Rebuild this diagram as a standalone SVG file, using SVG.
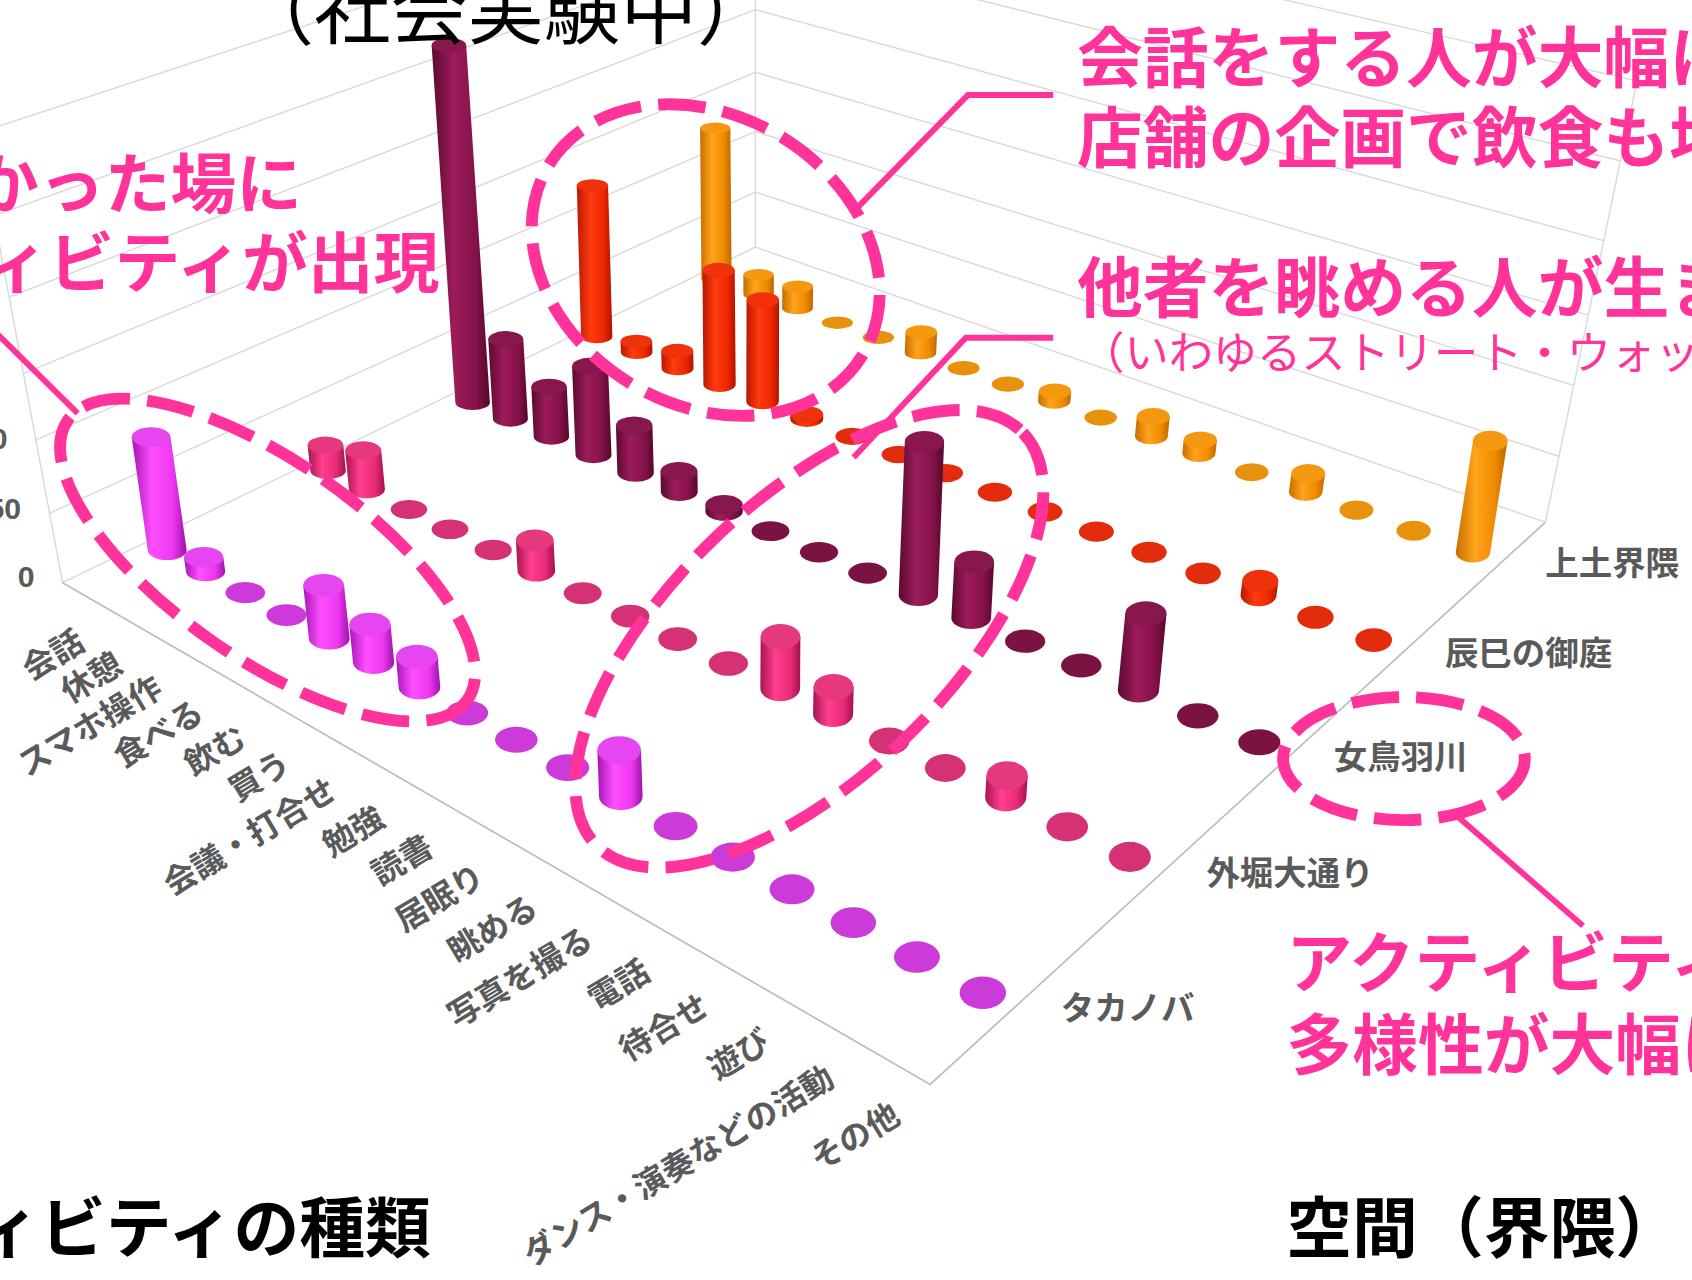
<svg xmlns="http://www.w3.org/2000/svg" width="1692" height="1280" viewBox="0 0 1692 1280">
<defs>
<linearGradient id="gO" x1="0" y1="0" x2="1" y2="0"><stop offset="0" stop-color="#c86e00"/><stop offset=".38" stop-color="#ffa41c"/><stop offset=".75" stop-color="#ef8b00"/><stop offset="1" stop-color="#bf6600"/></linearGradient>
<linearGradient id="gR" x1="0" y1="0" x2="1" y2="0"><stop offset="0" stop-color="#b81800"/><stop offset=".38" stop-color="#ff3b10"/><stop offset=".75" stop-color="#ee2700"/><stop offset="1" stop-color="#b01400"/></linearGradient>
<linearGradient id="gM" x1="0" y1="0" x2="1" y2="0"><stop offset="0" stop-color="#5a0a30"/><stop offset=".38" stop-color="#9c1c5a"/><stop offset=".75" stop-color="#85124a"/><stop offset="1" stop-color="#55082b"/></linearGradient>
<linearGradient id="gP" x1="0" y1="0" x2="1" y2="0"><stop offset="0" stop-color="#a8154f"/><stop offset=".38" stop-color="#ff3f90"/><stop offset=".75" stop-color="#e82a76"/><stop offset="1" stop-color="#a0124c"/></linearGradient>
<linearGradient id="gF" x1="0" y1="0" x2="1" y2="0"><stop offset="0" stop-color="#a516b5"/><stop offset=".38" stop-color="#ff4fff"/><stop offset=".75" stop-color="#ec37f0"/><stop offset="1" stop-color="#9e12ac"/></linearGradient>
<style>
.gl{fill:none;stroke:#d9d9d9;stroke-width:1.3}
.ed{fill:none;stroke:#bdbdbd;stroke-width:1.6}
.o{fill:url(#gO)} .ot{fill:#f3980f} .of{fill:#e8910c}
.r{fill:url(#gR)} .rt{fill:#f0320c} .rf{fill:#e22c0c}
.m{fill:url(#gM)} .mt{fill:#87174c} .mf{fill:#7a1242}
.p{fill:url(#gP)} .pt{fill:#e6387d} .pf{fill:#d43274}
.f{fill:url(#gF)} .ft{fill:#e646ef} .ff{fill:#cc3ad9}
.jp{font-family:"Noto Sans","Noto Sans CJK JP",sans-serif}
.cat{font-size:30px;font-weight:700;fill:#5a5a5a}
.ser{font-size:31px;font-weight:700;fill:#5a5a5a}
.num{font-family:"Liberation Sans",sans-serif;font-size:28px;font-weight:700;fill:#5a5a5a}
.call{font-size:61px;font-weight:700;fill:#ff3399}
.sub{font-size:41px;font-weight:400;fill:#ff3399}
.blk{font-size:61px;font-weight:700;fill:#000}
.ttl{font-size:71px;font-weight:400;fill:#000}
.dash{fill:none;stroke:#ff3399;stroke-width:11;stroke-dasharray:44 16}
.ld{fill:none;stroke:#ff3399;stroke-width:5.5}
</style>
</defs>
<rect width="1692" height="1280" fill="#fff"/>
<g transform="scale(1.0791)">
<g id="walls">
<path class="gl" d="M45 476L700 178M32 408L700 122M22 346L700 67M9 275L700 9M-6 200L700 -52M-20 123L700 -113"/>
<path class="gl" d="M700 178L1445 423M700 122L1458 357M700 67L1472 292M700 9L1486 223M700 -52L1501 149M700 -113L1517 75"/>
<path class="gl" d="M700 229L700 -120M58 540L-20 123M1432 484L1517 75"/>
<path class="gl" d="M58 540L700 229L1432 484"/>
<path class="ed" d="M58 540L862 1005L1432 484"/>
</g>
<g id="row-uetsuchi">
<path class="o" d="M650 258.6A14 5 0 0 0 678 258.6L676.8 118.6L648.8 118.6Z"/><ellipse class="ot" cx="662.8" cy="118.6" rx="14" ry="5"/>
<path class="o" d="M688.9 272.6A14.1 5.3 0 0 0 717.1 272.6L717.1 254.6L688.9 254.6Z"/><ellipse class="ot" cx="703" cy="254.6" rx="14.1" ry="5.3"/>
<path class="o" d="M724.75 285.6A14.25 5.6 0 0 0 753.25 285.6L753.45 265.6L724.95 265.6Z"/><ellipse class="ot" cx="739.2" cy="265.6" rx="14.25" ry="5.6"/>
<ellipse class="of" cx="776" cy="299" rx="14.4" ry="5.8"/>
<ellipse class="of" cx="814" cy="312.7" rx="14.5" ry="6.1"/>
<path class="o" d="M838.4 326.8A14.6 6.4 0 0 0 867.6 326.8L868.4 307.8L839.2 307.8Z"/><ellipse class="ot" cx="853.8" cy="307.8" rx="14.6" ry="6.4"/>
<ellipse class="of" cx="893" cy="341.2" rx="14.75" ry="6.7"/>
<ellipse class="of" cx="934" cy="356" rx="14.9" ry="7"/>
<path class="o" d="M962 371.6A15 7.25 0 0 0 992 371.6L992.6 362.6L962.6 362.6Z"/><ellipse class="ot" cx="977.6" cy="362.6" rx="15" ry="7.25"/>
<ellipse class="of" cx="1020" cy="387" rx="15.1" ry="7.5"/>
<path class="o" d="M1051.75 404A15.25 7.8 0 0 0 1082.25 404L1083.95 386L1053.45 386Z"/><ellipse class="ot" cx="1068.7" cy="386" rx="15.25" ry="7.8"/>
<path class="o" d="M1095.6 420A15.4 8.1 0 0 0 1126.4 420L1127.7 408L1096.9 408Z"/><ellipse class="ot" cx="1112.3" cy="408" rx="15.4" ry="8.1"/>
<ellipse class="of" cx="1160" cy="437.6" rx="15.5" ry="8.4"/>
<path class="o" d="M1194.4 455.7A15.6 8.6 0 0 0 1225.6 455.7L1227.9 438.7L1196.7 438.7Z"/><ellipse class="ot" cx="1212.3" cy="438.7" rx="15.6" ry="8.6"/>
<ellipse class="of" cx="1257" cy="472.7" rx="15.75" ry="8.9"/>
<ellipse class="of" cx="1310" cy="491.8" rx="15.9" ry="9.2"/>
<path class="o" d="M1349 511.7A16 9.5 0 0 0 1381 511.7L1397 408.7L1365 408.7Z"/><ellipse class="ot" cx="1381" cy="408.7" rx="16" ry="9.5"/>
</g>
<g id="row-tatsumi">
<path class="r" d="M538.5 312A14.5 6 0 0 0 567.5 312L563.5 172L534.5 172Z"/><ellipse class="rt" cx="549" cy="172" rx="14.5" ry="6"/>
<path class="r" d="M575.35 326.4A14.65 6.3 0 0 0 604.65 326.4L604.35 316.4L575.05 316.4Z"/><ellipse class="rt" cx="589.7" cy="316.4" rx="14.65" ry="6.3"/>
<path class="r" d="M613.1 341.2A14.8 6.6 0 0 0 642.7 341.2L642.4 325.2L612.8 325.2Z"/><ellipse class="rt" cx="627.6" cy="325.2" rx="14.8" ry="6.6"/>
<path class="r" d="M651.85 356.4A14.95 6.9 0 0 0 681.75 356.4L680.85 250.4L650.95 250.4Z"/><ellipse class="rt" cx="665.9" cy="250.4" rx="14.95" ry="6.9"/>
<path class="r" d="M691.6 372A15.1 7.25 0 0 0 721.8 372L722 278L691.8 278Z"/><ellipse class="rt" cx="706.9" cy="278" rx="15.1" ry="7.25"/>
<path class="r" d="M732.3 388A15.3 7.6 0 0 0 762.9 388L762.9 384L732.3 384Z"/><ellipse class="rt" cx="747.6" cy="384" rx="15.3" ry="7.6"/>
<ellipse class="rf" cx="789.6" cy="404.4" rx="15.4" ry="7.9"/>
<ellipse class="rf" cx="832.6" cy="421.2" rx="15.6" ry="8.2"/>
<ellipse class="rf" cx="876.7" cy="438.4" rx="15.75" ry="8.5"/>
<ellipse class="rf" cx="922" cy="456.1" rx="15.9" ry="8.8"/>
<ellipse class="rf" cx="968.4" cy="474.2" rx="16.06" ry="9.1"/>
<ellipse class="rf" cx="1016" cy="492.7" rx="16.2" ry="9.4"/>
<ellipse class="rf" cx="1064.8" cy="511.8" rx="16.4" ry="9.75"/>
<ellipse class="rf" cx="1114.9" cy="531.3" rx="16.5" ry="10.1"/>
<path class="r" d="M1149.6 551.4A16.7 10.4 0 0 0 1183 551.4L1184.6 538.4L1151.2 538.4Z"/><ellipse class="rt" cx="1167.9" cy="538.4" rx="16.7" ry="10.4"/>
<ellipse class="rf" cx="1219" cy="572" rx="16.84" ry="10.7"/>
<ellipse class="rf" cx="1273" cy="593.1" rx="17" ry="11"/>
</g>
<g id="row-metoba">
<path class="m" d="M422 373A16 7 0 0 0 454 373L432 42L400 42Z"/><ellipse class="mt" cx="416" cy="42" rx="16" ry="7"/>
<path class="m" d="M456.8 388.1A16.2 7.3 0 0 0 489.2 388.1L484.9 314.1L452.5 314.1Z"/><ellipse class="mt" cx="468.7" cy="314.1" rx="16.2" ry="7.3"/>
<path class="m" d="M494.6 404.5A16.4 7.6 0 0 0 527.4 404.5L525.2 358.5L492.4 358.5Z"/><ellipse class="mt" cx="508.8" cy="358.5" rx="16.4" ry="7.6"/>
<path class="m" d="M533.35 421.4A16.65 7.9 0 0 0 566.65 421.4L563.45 339.4L530.15 339.4Z"/><ellipse class="mt" cx="546.8" cy="339.4" rx="16.65" ry="7.9"/>
<path class="m" d="M572.1 438.2A16.9 8.25 0 0 0 605.9 438.2L604.6 394.2L570.8 394.2Z"/><ellipse class="mt" cx="587.7" cy="394.2" rx="16.9" ry="8.25"/>
<path class="m" d="M612.4 455.7A17.1 8.6 0 0 0 646.6 455.7L646.3 436.7L612.1 436.7Z"/><ellipse class="mt" cx="629.2" cy="436.7" rx="17.1" ry="8.6"/>
<path class="m" d="M653.7 473.7A17.3 8.9 0 0 0 688.3 473.7L688.3 467.7L653.7 467.7Z"/><ellipse class="mt" cx="671" cy="467.7" rx="17.3" ry="8.9"/>
<ellipse class="mf" cx="714" cy="492.2" rx="17.5" ry="9.2"/>
<ellipse class="mf" cx="759" cy="511.7" rx="17.75" ry="9.5"/>
<ellipse class="mf" cx="804" cy="531.1" rx="18" ry="9.8"/>
<path class="m" d="M832.8 551.4A18.2 10.1 0 0 0 869.2 551.4L874.9 409.4L838.5 409.4Z"/><ellipse class="mt" cx="856.7" cy="409.4" rx="18.2" ry="10.1"/>
<path class="m" d="M881.6 572.6A18.4 10.4 0 0 0 918.4 572.6L921.2 520.6L884.4 520.6Z"/><ellipse class="mt" cx="902.8" cy="520.6" rx="18.4" ry="10.4"/>
<ellipse class="mf" cx="950" cy="594.2" rx="18.6" ry="10.75"/>
<ellipse class="mf" cx="1002" cy="616.7" rx="18.8" ry="11.1"/>
<path class="m" d="M1035.9 639.6A19.1 11.4 0 0 0 1074.1 639.6L1081 568.6L1042.8 568.6Z"/><ellipse class="mt" cx="1061.9" cy="568.6" rx="19.1" ry="11.4"/>
<ellipse class="mf" cx="1110" cy="663.3" rx="19.3" ry="11.7"/>
<ellipse class="mf" cx="1167" cy="687.9" rx="19.5" ry="12"/>
</g>
<g id="row-sotobori">
<path class="p" d="M287.5 436A16.5 8 0 0 0 320.5 436L318.1 412.5L285.1 412.5Z"/><ellipse class="pt" cx="301.6" cy="412.5" rx="16.5" ry="8"/>
<path class="p" d="M323.3 453.4A16.7 8.4 0 0 0 356.7 453.4L353.3 417.4L319.9 417.4Z"/><ellipse class="pt" cx="336.6" cy="417.4" rx="16.7" ry="8.4"/>
<ellipse class="pf" cx="379" cy="472.2" rx="16.9" ry="8.75"/>
<ellipse class="pf" cx="417" cy="490.5" rx="17.06" ry="9.1"/>
<ellipse class="pf" cx="457" cy="509.7" rx="17.25" ry="9.5"/>
<path class="p" d="M479.6 529A17.4 9.9 0 0 0 514.4 529L512.9 500.5L478.1 500.5Z"/><ellipse class="pt" cx="495.5" cy="500.5" rx="17.4" ry="9.9"/>
<ellipse class="pf" cx="540" cy="549.8" rx="17.6" ry="10.25"/>
<ellipse class="pf" cx="584" cy="571" rx="17.8" ry="10.6"/>
<ellipse class="pf" cx="628" cy="592.2" rx="18" ry="11"/>
<ellipse class="pf" cx="675" cy="614.8" rx="18.2" ry="11.4"/>
<path class="p" d="M704.6 638A18.4 11.75 0 0 0 741.4 638L741.7 590L704.9 590Z"/><ellipse class="pt" cx="723.3" cy="590" rx="18.4" ry="11.75"/>
<path class="p" d="M753.44 661.6A18.56 12.1 0 0 0 790.56 661.6L791.06 636.6L753.94 636.6Z"/><ellipse class="pt" cx="772.5" cy="636.6" rx="18.56" ry="12.1"/>
<ellipse class="pf" cx="824" cy="686.6" rx="18.75" ry="12.5"/>
<ellipse class="pf" cx="876" cy="711.7" rx="18.9" ry="12.9"/>
<path class="p" d="M912.9 738.7A19.1 13.25 0 0 0 951.1 738.7L952.4 718.7L914.2 718.7Z"/><ellipse class="pt" cx="933.3" cy="718.7" rx="19.1" ry="13.25"/>
<ellipse class="pf" cx="989" cy="766.2" rx="19.3" ry="13.6"/>
<ellipse class="pf" cx="1047" cy="794.1" rx="19.5" ry="14"/>
</g>
<g id="row-takanoba">
<path class="f" d="M137 510A18 9 0 0 0 173 510L158 405L122 405Z"/><ellipse class="ft" cx="140" cy="405" rx="18" ry="9"/>
<path class="f" d="M172.3 529.3A18.2 9.4 0 0 0 208.7 529.3L206.9 516.3L170.5 516.3Z"/><ellipse class="ft" cx="188.7" cy="516.3" rx="18.2" ry="9.4"/>
<ellipse class="ff" cx="227.3" cy="549.2" rx="18.4" ry="9.75"/>
<ellipse class="ff" cx="265.5" cy="570" rx="18.65" ry="10.1"/>
<path class="f" d="M286.2 591.4A18.9 10.5 0 0 0 324 591.4L318.8 542.4L281 542.4Z"/><ellipse class="ft" cx="299.9" cy="542.4" rx="18.9" ry="10.5"/>
<path class="f" d="M327.1 613.7A19.1 10.9 0 0 0 365.3 613.7L361.9 578.7L323.7 578.7Z"/><ellipse class="ft" cx="342.8" cy="578.7" rx="19.1" ry="10.9"/>
<path class="f" d="M369.4 636.8A19.3 11.25 0 0 0 408 636.8L405.6 608.8L367 608.8Z"/><ellipse class="ft" cx="386.3" cy="608.8" rx="19.3" ry="11.25"/>
<ellipse class="ff" cx="432.9" cy="660.7" rx="19.5" ry="11.6"/>
<ellipse class="ff" cx="478.5" cy="685.5" rx="19.75" ry="12"/>
<ellipse class="ff" cx="526" cy="711.3" rx="20" ry="12.4"/>
<path class="f" d="M555.1 738A20.2 12.75 0 0 0 595.5 738L594 695L553.6 695Z"/><ellipse class="ft" cx="573.8" cy="695" rx="20.2" ry="12.75"/>
<ellipse class="ff" cx="626.1" cy="765.6" rx="20.4" ry="13.1"/>
<ellipse class="ff" cx="679" cy="794.3" rx="20.6" ry="13.5"/>
<ellipse class="ff" cx="734" cy="824.1" rx="20.8" ry="13.9"/>
<ellipse class="ff" cx="790.8" cy="854.9" rx="21.1" ry="14.25"/>
<ellipse class="ff" cx="849.7" cy="886.9" rx="21.3" ry="14.6"/>
<ellipse class="ff" cx="910.8" cy="920" rx="21.5" ry="15"/>
</g>
<g id="value-axis" class="num" text-anchor="end">
<text x="7" y="416">100</text>
<text x="19.5" y="481">50</text>
<text x="32" y="544">0</text>
</g>
<g id="category-axis" class="jp cat" text-anchor="end">
<text transform="translate(80.4 600.6) rotate(-31)">会話</text>
<text transform="translate(115.9 621.7) rotate(-31)">休憩</text>
<text transform="translate(152.7 643.4) rotate(-31)">スマホ操作</text>
<text transform="translate(190.9 666) rotate(-31)">食べる</text>
<text transform="translate(230.5 689.2) rotate(-31)">飲む</text>
<text transform="translate(271.6 713.3) rotate(-31)">買う</text>
<text transform="translate(314.1 738.2) rotate(-31)">会議・打合せ</text>
<text transform="translate(358.3 763.9) rotate(-31)">勉強</text>
<text transform="translate(403.9 790.5) rotate(-31)">読書</text>
<text transform="translate(451.4 818.1) rotate(-31)">居眠り</text>
<text transform="translate(500.7 846.6) rotate(-31)">眺める</text>
<text transform="translate(551.5 876) rotate(-31)">写真を撮る</text>
<text transform="translate(604.4 906.5) rotate(-31)">電話</text>
<text transform="translate(659.4 938.1) rotate(-31)">待合せ</text>
<text transform="translate(716.2 970.7) rotate(-31)">遊び</text>
<text transform="translate(775.1 1004.5) rotate(-31)">ダンス・演奏などの活動</text>
<text transform="translate(836.2 1039.4) rotate(-31)">その他</text>
</g>
<g id="series-axis" class="jp ser">
<text x="1432" y="533">上土界隈</text>
<text x="1339" y="616">辰巳の御庭</text>
<text x="1236" y="713">女鳥羽川</text>
<text x="1118" y="820">外堀大通り</text>
<text x="983" y="945">タカノバ</text>
</g>
<g id="title" class="jp ttl"><text x="220" y="35">（社会実験中）</text></g>
<g id="connectors">
<ellipse class="dash" cx="654" cy="241" rx="170" ry="134" transform="rotate(31 654 241)"/>
<ellipse class="dash" cx="248" cy="519" rx="226" ry="91" transform="rotate(35 248 519)"/>
<ellipse class="dash" cx="750" cy="592" rx="275" ry="128" transform="rotate(-44 750 592)"/>
<ellipse class="dash" cx="1301" cy="703" rx="112" ry="57"/>
<polyline class="ld" points="976,88 897,88 792,195"/>
<polyline class="ld" points="976,313 895,313 791,424"/>
<line class="ld" x1="-5" y1="307" x2="72" y2="383"/>
<line class="ld" x1="1350" y1="756" x2="1467" y2="858"/>
</g>
<g id="callout-conversation" class="jp call">
<text x="998" y="76">会話をする人が大幅に</text>
<text x="998" y="150">店舗の企画で飲食も増</text>
</g>
<g id="callout-watching" class="jp">
<text class="call" x="998" y="289">他者を眺める人が生ま</text>
<text class="sub" x="1001" y="342">（いわゆるストリート・ウォッ</text>
</g>
<g id="callout-new" class="jp call">
<text x="-25" y="193">かった場に</text>
<text x="-16" y="266">ィビティが出現</text>
</g>
<g id="callout-diversity" class="jp call">
<text x="1192" y="915">アクティビティ</text>
<text x="1192" y="991">多様性が大幅に</text>
</g>
<g id="axis-titles" class="jp blk">
<text x="-24" y="1160">ィビティの種類</text>
<text x="1192" y="1160">空間（界隈）</text>
</g>
</g>
</svg>
